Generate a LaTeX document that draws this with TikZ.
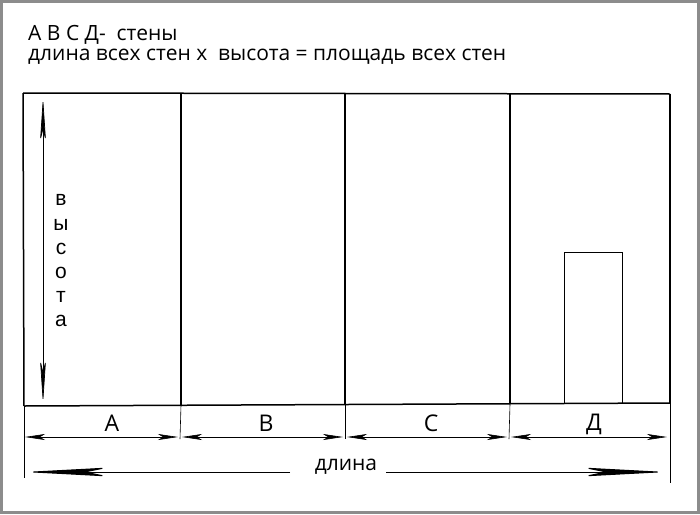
\documentclass[tikz,border=0pt]{standalone}
\usepackage{fontspec}
\setmainfont{Open Sans}
\newfontfamily\vfont{Liberation Sans}
\usetikzlibrary{arrows.meta}
\definecolor{ramka}{gray}{0.55}
\tikzset{
  stena/.style={line width=1.5pt},
  razmer/.style={line width=0.6pt},
  srazm/.style={razmer, {Stealth[length=20pt,width=6pt,inset=5pt,fill=black]}-{Stealth[length=20pt,width=6pt,inset=5pt,fill=black]}},
  dlrazm/.style={line width=1pt, -{Stealth[length=85pt,width=9pt,inset=22pt,fill=black]}},
  vrazm/.style={line width=0.7pt, {Stealth[length=45pt,width=6pt,inset=12pt,fill=black]}-{Stealth[length=45pt,width=6pt,inset=12pt,fill=black]}},
  bukva/.style={font=\fontsize{23}{23}\selectfont},
}
\begin{document}
\begin{tikzpicture}[x=1pt,y=-1pt,every node/.style={inner sep=0pt}]
\fill[ramka] (0,0) rectangle (700,514);
\fill[white] (3,3) rectangle (697,511);
\useasboundingbox (0,0) rectangle (700,514);

\node[anchor=west,font=\fontsize{21}{21}\selectfont] (t1) at (28,35) {А В С Д-\ \ стены};
\node[anchor=west,font=\fontsize{21}{21}\selectfont] (t2) at (28,57) {длина всех стен х\ \ высота = площадь всех стен};

% стены
\coordinate (a1) at (23,93);
\coordinate (b1) at (181,94);
\coordinate (c1) at (345,94);
\coordinate (d1) at (510,94);
\coordinate (e1) at (670,94);
\coordinate (a2) at (24,406);
\coordinate (b2) at (181,405);
\coordinate (c2) at (345,405);
\coordinate (d2) at (510,404);
\coordinate (e2) at (670,403);

% выносные линии
\coordinate (a3) at (24,478);
\coordinate (b3) at (180,439);
\coordinate (c3) at (345,439);
\coordinate (d3) at (509,439);
\coordinate (e3) at (670,483);

% размерные стрелки
\coordinate (sa1) at (25,437);
\coordinate (sa2) at (178,437);
\coordinate (sb1) at (182,437);
\coordinate (sb2) at (343,437);
\coordinate (sc1) at (347,437);
\coordinate (sc2) at (507,437);
\coordinate (sd1) at (511,437);
\coordinate (sd2) at (667,437);
\coordinate (h1) at (43,97);
\coordinate (h2) at (43,404);

% дверь
\coordinate (dv1) at (564,404);
\coordinate (dv2) at (564,252);
\coordinate (dv3) at (622,252);
\coordinate (dv4) at (622,404);

\node[bukva] (la) at (112,423) {А};
\node[bukva] (lb) at (266,423) {В};
\node[bukva] (lc) at (431,423) {С};
\node[bukva] (ld) at (594,424) {Д};
\node[font=\fontsize{21}{21}\selectfont] (dl) at (346,467) {длина};
\node[align=center,font=\vfont\fontsize{21}{24.2}\selectfont] (vy) at (61,261) {в\\ы\\с\\о\\т\\а};

\coordinate (l1) at (24,472);
\coordinate (l2) at (290,472);
\coordinate (r1) at (386,472);
\coordinate (r2) at (667,472);

\draw[stena] (a1) -- (e1);
\draw[stena] (a2) -- (e2);
\draw[stena] (a1) -- (a2);
\draw[stena] (b1) -- (b2);
\draw[stena] (c1) -- (c2);
\draw[stena] (d1) -- (d2);
\draw[stena] (e1) -- (e2);
\draw[line width=0.8pt] (dv1) -- (dv2) -- (dv3) -- (dv4);

\path[razmer]
(a2) edge (a3)
(b2) edge (b3)
(c2) edge (c3)
(d2) edge (d3)
(e2) edge (e3);

\path
(sa1) edge[srazm] (sa2)
(sb1) edge[srazm] (sb2)
(sc1) edge[srazm] (sc2)
(sd1) edge[srazm] (sd2)
(h1) edge[vrazm] (h2)
(l2) edge[dlrazm] (l1)
(r1) edge[dlrazm] (r2);
\end{tikzpicture}
\end{document}
